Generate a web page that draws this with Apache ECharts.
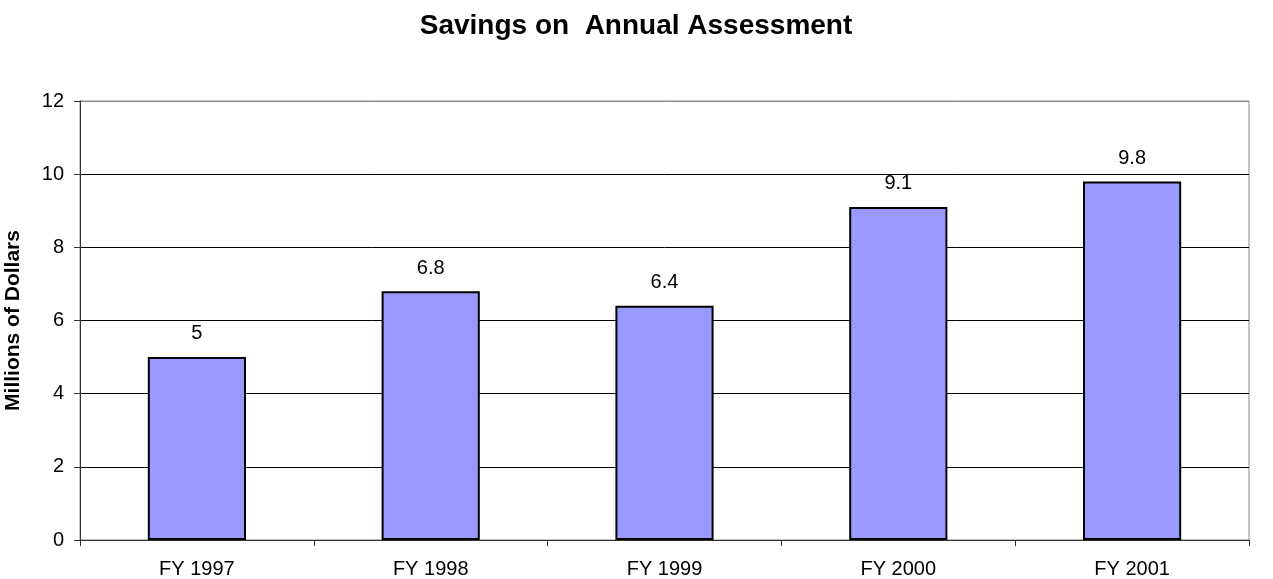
<!DOCTYPE html>
<html>
  <head>
    <title>Savings on Annual Assessment</title>
    <style>
      html, body {
        margin: 0;
        padding: 0;
        width: 100%;
        height: 100%;
        background: #fff;
      }
      #container {
        width: 1273px;
        height: 579px;
      }
    </style>
  </head>
  <body>
    <div id="container"></div>
    <script src="https://cdn.jsdelivr.net/npm/echarts@6/dist/echarts.min.js"></script>
    <script type="text/javascript">
      const years = ['FY 1997', 'FY 1998', 'FY 1999', 'FY 2000', 'FY 2001'];
      const savings = [5, 6.8, 6.4, 9.1, 9.8];

      const font = '"Liberation Sans", Arial, sans-serif';

      const chart = echarts.init(document.getElementById('container'));
      chart.setOption({
        animation: false,
        title: {
          text: 'Savings on  Annual Assessment',
          left: 636,
          textAlign: 'center',
          top: 2,
          padding: 0,
          textStyle: { fontFamily: font, fontSize: 28, fontWeight: 'bold', color: '#000' }
        },
        grid: {
          left: 80,
          right: 24,
          top: 101,
          bottom: 39,
          containLabel: false,
          outerBoundsMode: 'none',
          show: true,
          borderColor: '#888',
          borderWidth: 1
        },
        xAxis: {
          type: 'category',
          data: years,
          boundaryGap: true,
          axisLine: { lineStyle: { color: '#333', width: 1 } },
          axisTick: { show: true, alignWithLabel: false, length: 6, lineStyle: { color: '#333' } },
          axisLabel: { color: '#000', fontFamily: font, fontSize: 20, margin: 12 }
        },
        yAxis: {
          type: 'value',
          min: 0,
          max: 12,
          interval: 2,
          name: 'Millions of Dollars',
          nameLocation: 'middle',
          nameGap: 38,
          nameTextStyle: { fontFamily: font, fontSize: 21, fontWeight: 'bold', color: '#000' },
          axisLine: { show: true, lineStyle: { color: '#333', width: 1 } },
          axisTick: { show: true, length: 6, lineStyle: { color: '#333' } },
          axisLabel: { color: '#000', fontFamily: font, fontSize: 20, margin: 16 },
          splitLine: {
            show: true,
            lineStyle: { color: ['#000', '#000', '#000', '#000', '#000', '#000', '#888'], width: 1 }
          }
        },
        series: [{
          type: 'bar',
          data: savings,
          barWidth: '42%',
          itemStyle: { color: '#9999FF', borderColor: '#000', borderWidth: 2 },
          label: {
            show: true,
            position: 'top',
            distance: 6,
            color: '#000',
            fontFamily: font,
            fontSize: 20
          }
        }]
      });
    </script>
  </body>
</html>
